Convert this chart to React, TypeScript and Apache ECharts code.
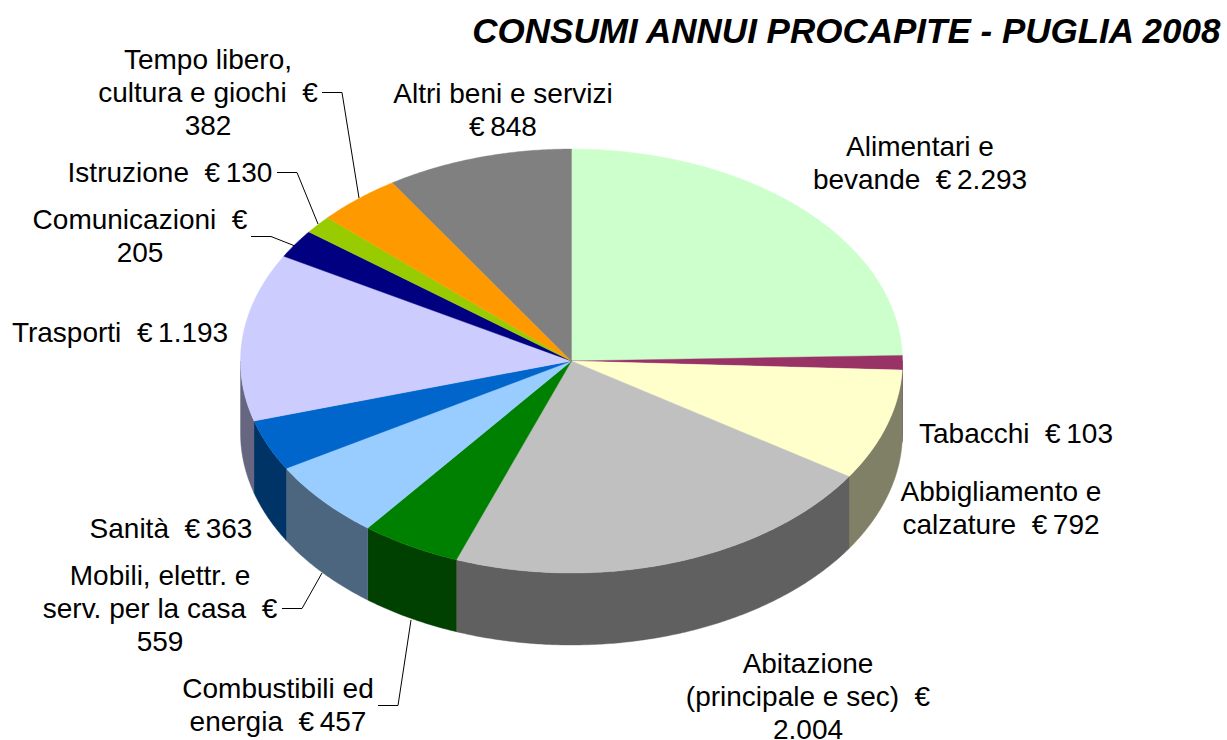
import React, { useEffect, useRef } from "react";
import * as echarts from "echarts";

const categories = [
  "Alimentari e bevande", "Tabacchi", "Abbigliamento e calzature", "Abitazione (principale e sec)",
  "Combustibili ed energia", "Mobili, elettr. e serv. per la casa", "Sanità", "Trasporti",
  "Comunicazioni", "Istruzione", "Tempo libero, cultura e giochi", "Altri beni e servizi",
];
const values = [2293, 103, 792, 2004, 457, 559, 363, 1193, 205, 130, 382, 848];
const topColors = ["#CCFFCC", "#993366", "#FFFFCC", "#C0C0C0", "#008000", "#99CCFF", "#0066CC", "#CCCCFF", "#000080", "#99CC00", "#FF9900", "#808080"];
const sideColors = ["#668066", "#4D1A33", "#808066", "#606060", "#004000", "#4D6680", "#003366", "#666680", "#000040", "#4D6600", "#804D00", "#404040"];
const labelTexts = [
  "Alimentari e\nbevande  €\u20092.293", "Tabacchi  €\u2009103", "Abbigliamento e\ncalzature  €\u2009792",
  "Abitazione\n(principale e sec)  €\n2.004", "Combustibili ed\nenergia  €\u2009457",
  "Mobili, elettr. e\nserv. per la casa  €\n559", "Sanità  €\u2009363", "Trasporti  €\u20091.193",
  "Comunicazioni  €\n205", "Istruzione  €\u2009130", "Tempo libero,\ncultura e giochi  €\n382", "Altri beni e servizi\n€\u2009848",
];
const titleText = "CONSUMI ANNUI PROCAPITE - PUGLIA 2008";

const FONT = '"Liberation Sans", Arial, sans-serif';
const CX = 571.5, CY = 361, RX = 331, RY = 212, DEPTH = 72;
const labelCenters: [number, number][] = [
  [920, 163], [1016, 433], [1001, 508], [808, 696], [278, 705], [160, 608], [171, 528], [120, 332], [140, 236], [170, 172], [208, 92], [503, 110],
];
const leaders: [number, number][][] = [
  [[322, 92.5], [342, 92.5], [359, 198]],
  [[277, 172.5], [297, 172.5], [318, 224]],
  [[251, 236.5], [271, 236.5], [295, 246]],
  [[282, 608.5], [302, 608.5], [322, 573]],
  [[378, 705.5], [398, 705.5], [411, 620]],
];

const total = values.reduce((a, b) => a + b, 0);
const pt = (deg: number, dy = 0): number[] => {
  const r = (deg * Math.PI) / 180;
  return [CX + RX * Math.sin(r), CY - RY * Math.cos(r) + dy];
};
const arc = (a: number, b: number, dy = 0): number[][] => {
  const n = Math.max(2, Math.ceil(Math.abs(b - a) * 2));
  const out: number[][] = [];
  for (let i = 0; i <= n; i++) out.push(pt(a + ((b - a) * i) / n, dy));
  return out;
};

const renderItem = (params: any, api: any) => {
  const i = params.dataIndex;
  let before = 0;
  for (let k = 0; k < i; k++) before += values[k];
  const a0 = (before / total) * 360;
  const a1 = a0 + (api.value(0) / total) * 360;
  const children: any[] = [];
  const s0 = Math.max(a0, 90), s1 = Math.min(a1, 270);
  if (s1 > s0) {
    children.push({
      type: "polygon",
      shape: { points: [...arc(s0, s1), ...arc(s1, s0, DEPTH)] },
      style: { fill: sideColors[i], stroke: sideColors[i], lineWidth: 0.4 },
    });
  }
  children.push({
    type: "polygon",
    shape: { points: [[CX, CY], ...arc(a0, a1)] },
    style: { fill: topColors[i], stroke: topColors[i], lineWidth: 0.4 },
  });
  return { type: "group", children };
};

export default function App() {
  const ref = useRef<HTMLDivElement>(null);
  useEffect(() => {
    const chart = echarts.init(ref.current!, null, { renderer: "svg" });
    chart.setOption({
      animation: false,
      backgroundColor: "#ffffff",
      title: {
        text: titleText,
        right: 4,
        top: 13,
        padding: 0,
        textStyle: { fontFamily: FONT, fontSize: 35, fontWeight: "bold", fontStyle: "italic", color: "#000" },
      },
      graphic: [
        ...leaders.map((points) => ({
          type: "polyline",
          z: 5,
          shape: { points },
          style: { stroke: "#000", lineWidth: 1, fill: "none" },
        })),
        ...labelTexts.map((text, i) => ({
          type: "text",
          z: 6,
          x: labelCenters[i][0],
          y: labelCenters[i][1],
          style: {
            text,
            fill: "#000",
            font: `28px ${FONT}`,
            lineHeight: 33,
            align: "center",
            verticalAlign: "middle",
          },
        })),
      ],
      series: [
        {
          type: "custom",
          coordinateSystem: "none",
          renderItem,
          silent: true,
          data: values.map((value, i) => ({ name: categories[i], value: [value] })),
        },
      ],
    });
    return () => chart.dispose();
  }, []);
  return <div ref={ref} style={{ position: "fixed", left: 0, top: 0, width: 1227, height: 740 }} />;
}
